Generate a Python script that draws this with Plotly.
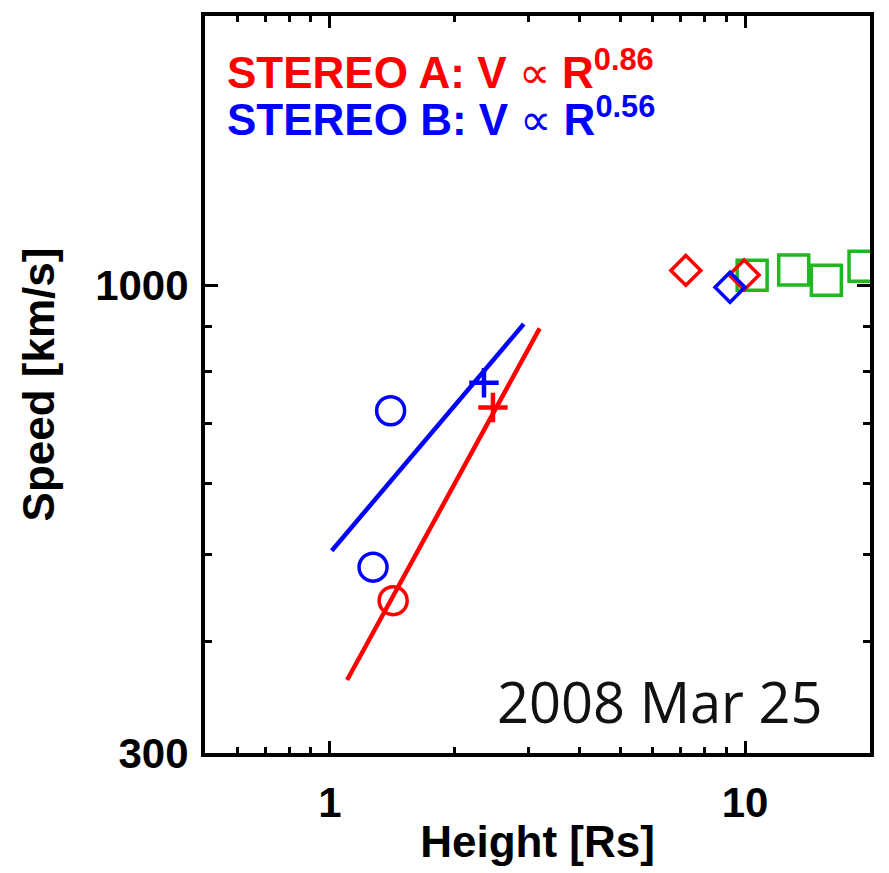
import plotly.graph_objects as go

# ---- data ----
fitA_x = [1.10, 3.20]
fitA_y = [362, 895]
fitB_x = [1.01, 2.93]
fitB_y = [505, 905]

circA_x = [1.42]
circA_y = [444]
circB_x = [1.40, 1.27]
circB_y = [724, 484]

plusA_x = [2.47]
plusA_y = [730]
plusB_x = [2.35]
plusB_y = [778]

diamA_x = [7.2, 9.95]
diamA_y = [1039, 1027]
diamB_x = [9.2]
diamB_y = [995]

sq_x = [10.4, 13.1, 15.7, 19.35]
sq_y = [1026, 1040, 1013, 1050]

x_ticks = [1, 10]
x_ticklabels = ["1", "10"]
x_minor = [0.6, 0.7, 0.8, 0.9, 2, 3, 4, 5, 6, 7, 8, 9]
y_ticks = [300, 1000]
y_ticklabels = ["300", "1000"]
y_minor = [400, 500, 600, 700, 800, 900]

RED = "#ff0000"
BLUE = "#0000ff"
GREEN = "#1fb81f"

fig = go.Figure()
fig.add_trace(go.Scatter(x=fitA_x, y=fitA_y, mode="lines", line=dict(color=RED, width=4.5)))
fig.add_trace(go.Scatter(x=fitB_x, y=fitB_y, mode="lines", line=dict(color=BLUE, width=4.5)))

def mk(x, y, sym, size, color, lw=3.5):
    fig.add_trace(go.Scatter(x=x, y=y, mode="markers",
                             marker=dict(symbol=sym, size=size, color=color,
                                         line=dict(color=color, width=lw))))

mk(circB_x, circB_y, "circle-open", 28, BLUE)
mk(circA_x, circA_y, "circle-open", 28, RED)
mk(plusB_x, plusB_y, "cross-thin", 21, BLUE, 4.5)
mk(plusA_x, plusA_y, "cross-thin", 21, RED, 4.5)
mk(sq_x, sq_y, "square-open", 30, GREEN)
mk(diamA_x, diamA_y, "diamond-open", 23, RED)
mk(diamB_x, diamB_y, "diamond-open", 23, BLUE)

axis_common = dict(
    showline=True, linecolor="black", linewidth=4, mirror="allticks",
    ticks="inside", tickcolor="black", tickwidth=3,
    showgrid=False, zeroline=False,
)

fig.update_xaxes(
    type="log", range=[-0.30103, 1.30103],
    tickmode="array", tickvals=x_ticks, ticktext=x_ticklabels, ticklen=12,
    minor=dict(tickmode="array", tickvals=x_minor, ticks="inside", ticklen=6,
               tickwidth=3, tickcolor="black", showgrid=False),
    tickfont=dict(family="Liberation Sans", size=42, color="black", weight="bold"),
    title=dict(text="Height [Rs]", font=dict(family="Liberation Sans", size=44,
                                             color="black", weight="bold"), standoff=2),
    ticklabelstandoff=10,
    **axis_common,
)
fig.update_yaxes(
    type="log", range=[2.47712, 3.30103],
    tickmode="array", tickvals=y_ticks, ticktext=y_ticklabels, ticklen=13,
    minor=dict(tickmode="array", tickvals=y_minor, ticks="inside", ticklen=7,
               tickwidth=3, tickcolor="black", showgrid=False),
    tickfont=dict(family="Liberation Sans", size=42, color="black", weight="bold"),
    title=dict(text="Speed [km/s]", font=dict(family="Liberation Sans", size=44,
                                              color="black", weight="bold"), standoff=28),
    ticklabelstandoff=4,
    **axis_common,
)

fig.add_annotation(xref="paper", yref="paper", x=0.03, y=0.928, xanchor="left", yanchor="middle",
                   showarrow=False,
                   text="STEREO A: V <span style='font-weight:normal'>∝</span> R<sup>0.86</sup>",
                   font=dict(family="Liberation Sans", size=44, color=RED, weight="bold"))
fig.add_annotation(xref="paper", yref="paper", x=0.03, y=0.864, xanchor="left", yanchor="middle",
                   showarrow=False,
                   text="STEREO B: V <span style='font-weight:normal'>∝</span> R<sup>0.56</sup>",
                   font=dict(family="Liberation Sans", size=44, color=BLUE, weight="bold"))
fig.add_annotation(xref="paper", yref="paper", x=0.932, y=0.07, xanchor="right", yanchor="middle",
                   showarrow=False, text="2008 Mar 25",
                   font=dict(family="Open Sans", size=56, color="#111111"))

fig.update_layout(
    width=889, height=873, autosize=False,
    margin=dict(l=205, r=19, t=12, b=120),
    paper_bgcolor="white", plot_bgcolor="white",
    showlegend=False,
)

fig.write_html("out.html")
